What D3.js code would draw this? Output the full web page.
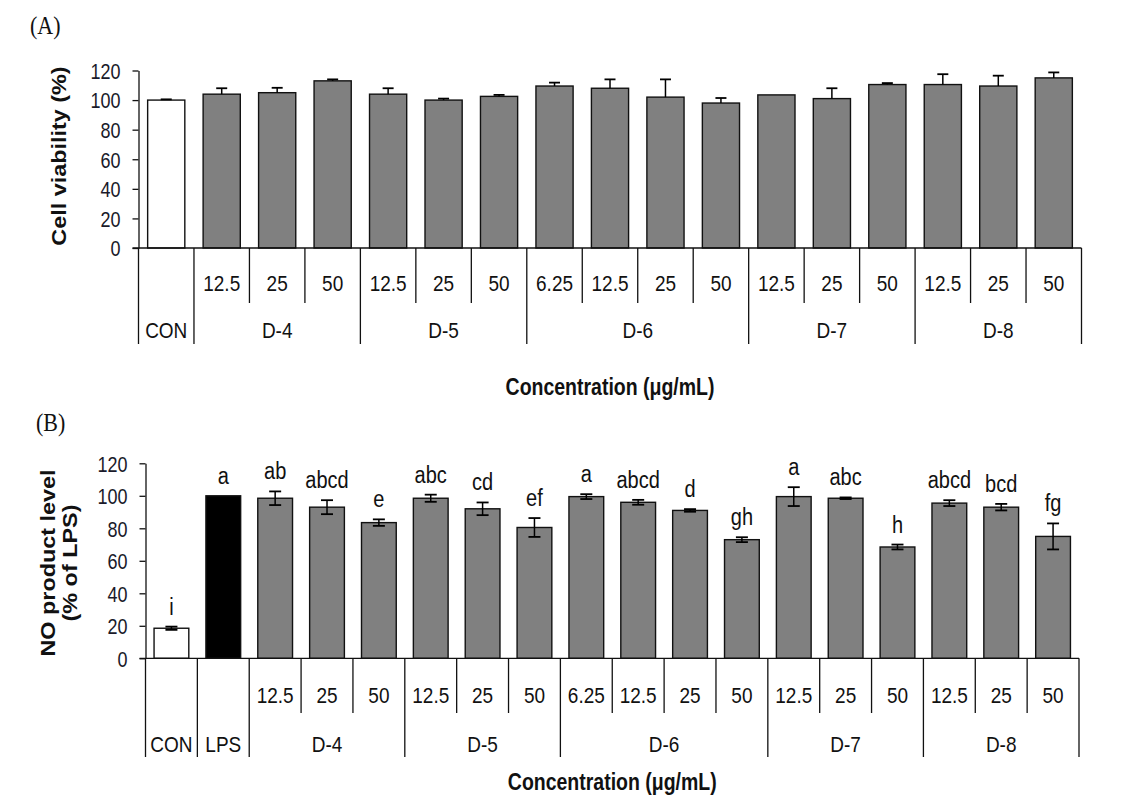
<!DOCTYPE html>
<html><head><meta charset="utf-8">
<script src="https://cdn.jsdelivr.net/npm/d3@7"></script>
<style>body{margin:0;background:#fff} svg{display:block}</style>
</head><body>
<svg id="c" width="1125" height="808"></svg>
<script>
// ---------- Panel A data ----------
const groupsA = ["CON","D-4","D-4","D-4","D-5","D-5","D-5","D-6","D-6","D-6","D-6","D-7","D-7","D-7","D-8","D-8","D-8"];
const concA = ["","12.5","25","50","12.5","25","50","6.25","12.5","25","50","12.5","25","50","12.5","25","50"];
const viability = [100,104,105,113,104,100,102.5,109.5,108,102,98,103.5,101,110.5,110.5,109.5,115];
const viabilityErr = [0.5,4,3.3,1,4,1,1,2.3,6,12,3.4,0,7,1,7,7,3.7];

// ---------- Panel B data ----------
const groupsB = ["CON","LPS","D-4","D-4","D-4","D-5","D-5","D-5","D-6","D-6","D-6","D-6","D-7","D-7","D-7","D-8","D-8","D-8"];
const concB = ["","","12.5","25","50","12.5","25","50","6.25","12.5","25","50","12.5","25","50","12.5","25","50"];
const noLevel = [18.5,100,98.5,93,83.5,98.5,92,80.5,99.5,96,91,73,99.5,98.5,68.5,95.5,93,75];
const noErr = [1,0,4.2,4.3,2,2.2,3.9,5.8,1.5,1.5,0.8,1.5,5.8,0.5,1.5,1.8,2,8];
const letters = ["i","a","ab","abcd","e","abc","cd","ef","a","abcd","d","gh","a","abc","h","abcd","bcd","fg"];

const yTicks = [0,20,40,60,80,100,120];
const xTitle = "Concentration (μg/mL)";

const svg = d3.select("#c");
const SANS = "'Liberation Sans', Arial, sans-serif";

function stext(g, x, y, str, size, sy, weight, anchor) {
  return g.append("text")
    .attr("transform", `translate(${x},${y}) scale(1,${sy})`)
    .attr("text-anchor", anchor || "middle")
    .attr("fill", "#111")
    .style("font", `${weight || "normal"} ${size}px ${SANS}`)
    .text(str);
}

function panel(o) {
  const g = svg.append("g");
  const n = o.values.length;
  const x = d3.scaleBand().domain(d3.range(n)).range([o.x0, o.x1]).paddingInner(0.33).paddingOuter(0.165);
  const y = d3.scaleLinear().domain([0, 120]).range([o.yBase, o.yTop]);
  const step = x.step();
  const cellL = i => o.x0 + i * step;

  // y axis
  const ax = g.append("g").attr("transform", `translate(${o.x0},0)`)
    .call(d3.axisLeft(y).tickValues(yTicks).tickSize(6).tickSizeOuter(0).tickPadding(12));
  ax.select(".domain").attr("stroke", "#111").attr("stroke-width", 1.3);
  ax.selectAll(".tick line").attr("stroke", "#111").attr("stroke-width", 1.3);
  ax.selectAll(".tick text").attr("fill", "#1a1a2a")
    .style("font", `18px ${SANS}`).attr("dy", "0.36em")
    .attr("transform", "scale(1,1.2)");

  // bars
  g.selectAll("rect.bar").data(o.values).join("rect")
    .attr("x", (d, i) => x(i)).attr("width", x.bandwidth())
    .attr("y", d => y(d)).attr("height", d => y(0) - y(d))
    .attr("fill", (d, i) => o.groups[i] === "CON" ? "#fff" : (o.groups[i] === "LPS" ? "#000" : "#808080"))
    .attr("stroke", "#111").attr("stroke-width", 1.4);

  // error bars
  const cap = o.capW;
  o.errs.forEach((e, i) => {
    if (e <= 0) return;
    const cx = x(i) + x.bandwidth() / 2;
    const top = y(o.values[i] + e);
    const bot = o.errBoth ? y(o.values[i] - e) : y(o.values[i]);
    g.append("line").attr("x1", cx).attr("x2", cx).attr("y1", top).attr("y2", bot)
      .attr("stroke", "#000").attr("stroke-width", 1.5);
    g.append("line").attr("x1", cx - cap / 2).attr("x2", cx + cap / 2).attr("y1", top).attr("y2", top)
      .attr("stroke", "#000").attr("stroke-width", 1.8);
    if (o.errBoth)
      g.append("line").attr("x1", cx - cap / 2).attr("x2", cx + cap / 2).attr("y1", bot).attr("y2", bot)
        .attr("stroke", "#000").attr("stroke-width", 1.8);
  });

  // significance letters
  if (o.letters) {
    o.letters.forEach((t, i) => {
      const cx = x(i) + x.bandwidth() / 2;
      stext(g, cx, y(o.values[i] + o.errs[i]) - 12, t, 20, 1.15, "normal", "middle");
    });
  }

  // x axis line
  g.append("line").attr("x1", o.x0 - 6).attr("x2", o.x1).attr("y1", y(0)).attr("y2", y(0))
    .attr("stroke", "#111").attr("stroke-width", 1.3);

  // table separators
  for (let i = 0; i <= n; i++) {
    const isLong = i === 0 || i === n || o.groups[i] !== o.groups[i - 1];
    g.append("line").attr("x1", cellL(i)).attr("x2", cellL(i))
      .attr("y1", y(0)).attr("y2", isLong ? o.longBot : o.shortBot)
      .attr("stroke", "#111").attr("stroke-width", 1.3);
  }

  // concentration labels
  o.conc.forEach((t, i) => {
    if (!t) return;
    stext(g, cellL(i) + step / 2, o.concBase, t, 19, 1.18, "normal", "middle");
  });

  // group labels
  const groupNames = [...new Set(o.groups)];
  groupNames.forEach(gn => {
    const idx = o.groups.map((v, i) => v === gn ? i : -1).filter(i => i >= 0);
    const cx = (cellL(idx[0]) + cellL(idx[idx.length - 1] + 1)) / 2;
    stext(g, cx, o.groupBase, gn, 19, 1.18, "normal", "middle");
  });

  // x title
  stext(g, (o.x0 + o.x1) / 2, o.xTitleBase, xTitle, 19.5, 1.2, "bold", "middle");

  // y title (stretched along its length, like the rest of the figure)
  o.yTitle.forEach((t, k) => {
    g.append("text")
      .attr("transform", `translate(${o.yTitleX[k]},${o.yTitleY}) rotate(-90) scale(1.17,1)`)
      .attr("text-anchor", "middle").attr("fill", "#111")
      .style("font", `bold 20px ${SANS}`)
      .text(t);
  });

  // panel letter
  g.append("text")
    .attr("transform", `translate(${o.tagX},${o.tagY}) scale(1,1.15)`)
    .attr("fill", "#111")
    .style("font", `22px 'Liberation Serif', 'Times New Roman', serif`)
    .text(o.tag);
}

panel({
  groups: groupsA, conc: concA, values: viability, errs: viabilityErr, errBoth: false, letters: null,
  x0: 138.5, x1: 1081.5, yBase: 248, yTop: 70.5, shortBot: 303, longBot: 344,
  concBase: 291, groupBase: 338, xTitleBase: 395, capW: 11,
  yTitle: ["Cell viability  (%)"], yTitleX: [66], yTitleY: 156,
  tag: "(A)", tagX: 30, tagY: 34
});

panel({
  groups: groupsB, conc: concB, values: noLevel, errs: noErr, errBoth: true, letters: letters,
  x0: 145.5, x1: 1079, yBase: 658.3, yTop: 463.3, shortBot: 713, longBot: 757,
  concBase: 703, groupBase: 752, xTitleBase: 790, capW: 12,
  yTitle: ["NO product level", "(% of LPS)"], yTitleX: [55, 77], yTitleY: 563,
  tag: "(B)", tagX: 36, tagY: 431
});
</script>
</body></html>
